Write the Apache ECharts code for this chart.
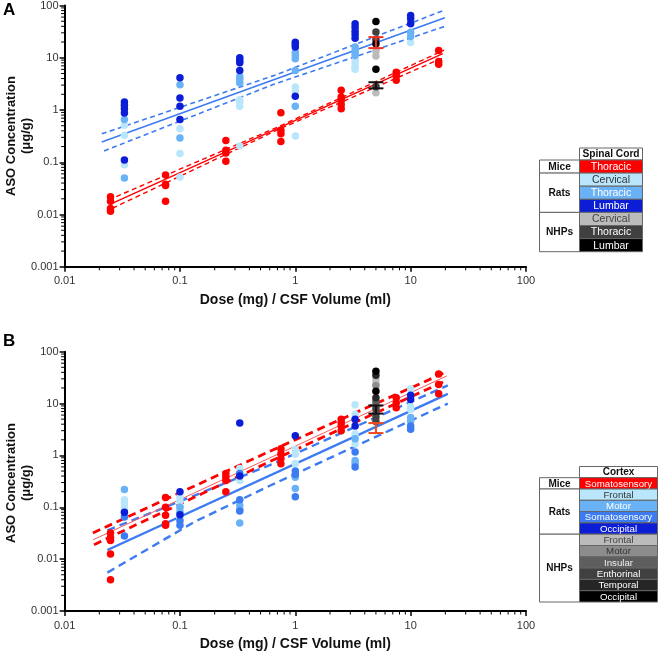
<!DOCTYPE html>
<html><head><meta charset="utf-8">
<script src="https://cdn.jsdelivr.net/npm/echarts@6/dist/echarts.min.js"></script>
<style>html,body{margin:0;padding:0;background:#fff}#c{width:660px;height:652px}</style>
</head><body><div id="c"></div>
<script>
// ---------- tick labels ----------
const xTickLabels = ['0.01','0.1','1','10','100'];
const yTickLabels = ['0.001','0.01','0.1','1','10','100'];

// ---------- doses (mg / CSF ml) ----------
const doseMice = [0.025, 0.075, 0.25, 0.75, 2.5, 7.5, 17.5];
const doseRat  = [0.033, 0.1, 0.33, 1, 3.3, 10];
const doseNHP  = [5];

// ---------- Panel A: spinal cord (µg/g), values per dose ----------
const A_miceThoracic = [[0.022,0.018,0.013,0.0115],[0.057,0.038,0.036,0.018],[0.26,0.17,0.15,0.105],[0.89,0.41,0.35,0.25],[2.38,1.77,1.53,1.28,1.06],[5.3,4.6,3.7],[13.8,8.5,7.5]];
const A_ratCervical  = [[0.51,0.33,0.09],[0.44,0.147,0.052],[1.58,1.42,1.18,0.205],[2.75,2.3,0.32],[8.9,7.7,6.6,6.0],[19.5]];
const A_ratThoracic  = [[0.66,0.05],[3.05,0.29],[4.4,3.86,3.28],[12.8,11.1,9.6,5.7,1.18],[16,13.8,12.3,11.1],[30.9,25.6]];
const A_ratLumbar    = [[1.42,1.23,1.06,0.88,0.11],[4.16,1.69,1.18,0.66],[10.0,8.9,8.0,5.7],[19.9,17.7,16,1.83],[44.7,38.5,32.3,27.9,23.7],[64.4,55.7,44.7]];
const A_nhpCervical  = [[13.5,10.8,2.15]];
const A_nhpThoracic  = [[31,22,2.8]];
const A_nhpLumbar    = [[49.5,18.5,6.0]];
// error bars [dose, low, high]
const A_errRed   = [[5, 15.3, 24.8]];
const A_errBlack = [[5, 2.6, 3.4]];
// regression lines and 95% bands [dose, conc]
const A_fitMice      = [[0.025,0.0158],[19,12.0]];
const A_fitMiceUp    = [[0.024,0.019],[0.7,0.47],[19.5,14.0]];
const A_fitMiceLo    = [[0.026,0.0132],[0.7,0.415],[19.5,10.2]];
const A_fitRat       = [[0.021,0.245],[19.8,58]];
const A_fitRatUp     = [[0.021,0.35],[0.65,4.55],[19.8,82]];
const A_fitRatLo     = [[0.022,0.165],[0.65,3.1],[20.5,41]];

// ---------- Panel B: cortex (µg/g) ----------
const B_miceSomato   = [[0.032,0.026,0.023,0.0125,0.004],[0.155,0.1,0.07,0.048,0.045],[0.45,0.39,0.33,0.2],[1.34,1.07,0.86,0.69],[5.0,4.3,3.7,3.0],[12.9,10.4,8.3],[37,23.2,15.4]];
const B_ratFrontal   = [[0.14,0.12,0.1,0.09],[0.16,0.13,0.105,0.09,0.062],[0.56,0.33],[1.3,1.05,0.7],[9.5,6.2,2.6,1.66],[19,8.9,7.7]];
const B_ratMotor     = [[0.22],[0.1,0.08],[0.11,0.09,0.05],[0.38,0.23],[2.1,0.8,0.7],[5.4,4.6]];
const B_ratSomato    = [[0.065,0.028],[0.055,0.045],[0.45,0.14,0.085],[0.5,0.43,0.16],[1.16,0.6],[3.7,3.2]];
const B_ratOccipital = [[0.08],[0.2,0.072],[4.2,0.4],[2.4],[5.0,3.7],[14.5,12]];
const B_nhpFrontal   = [[29,24]];
const B_nhpMotor     = [[22,9.5]];
const B_nhpInsular   = [[11,6.5]];
const B_nhpEnthorinal= [[8,5.5,4.5]];
const B_nhpTemporal  = [[35,12.9]];
const B_nhpOccipital = [[42,17.3]];
const B_errBlack = [[5, 6.4, 9.2]];
const B_errRed   = [[5, 2.7, 4.2]];
const B_fitMice      = [[0.0176,0.0235],[20.5,34]];
const B_fitMiceUp    = [[0.0176,0.032],[0.6,1.2],[20.5,41]];
const B_fitMiceLo    = [[0.0180,0.019],[0.6,0.76],[20.5,28]];
const B_fitRat       = [[0.0235,0.015],[21,15.4]];
const B_fitRatUp     = [[0.0235,0.036],[0.135,0.17],[0.6,0.65],[21,22.5]];
const B_fitRatLo     = [[0.0235,0.0055],[0.135,0.053],[0.6,0.26],[21,10]];

// ---------- colours ----------
const C = {
  red:'#FF0000', lblue:'#B9E6FA', mblue:'#6AB2F6', sblue:'#3C7CF2', dblue:'#0B1ED6',
  g1:'#BBBBBB', g2:'#8C8C8C', g3:'#5E5E5E', g4:'#404040', g5:'#262626', blk:'#000000',
  line:'#3D7BF2'
};
const FONT = '"Liberation Sans", Arial, Helvetica, sans-serif';

function pts(doses, groups){
  const out=[];
  groups.forEach((g,i)=>g.forEach(v=>out.push([doses[i], v])));
  return out;
}
function scatter(idx, name, color, data){
  return {type:'scatter', name, xAxisIndex:idx, yAxisIndex:idx, data, symbolSize:7.5,
    itemStyle:{color, opacity:1}, z:5, silent:true};
}
function fit(idx, data, color, width, dashed){
  return {type:'line', xAxisIndex:idx, yAxisIndex:idx, data, symbol:'none', showSymbol:false,
    lineStyle:{color, width, type: dashed ? dashed : 'solid'}, z:3, silent:true, animation:false};
}
function errBar(idx, data, color){
  return {type:'custom', xAxisIndex:idx, yAxisIndex:idx, data, z:8, silent:true, clip:false,
    encode:{x:0, y:[1,2]},
    renderItem:(p, api)=>{
      const lo = api.coord([api.value(0), api.value(1)]);
      const hi = api.coord([api.value(0), api.value(2)]);
      const w = 7.5;
      const st = {stroke:color, lineWidth:2};
      return {type:'group', children:[
        {type:'line', shape:{x1:lo[0],y1:lo[1],x2:hi[0],y2:hi[1]}, style:st},
        {type:'line', shape:{x1:lo[0]-w,y1:lo[1],x2:lo[0]+w,y2:lo[1]}, style:st},
        {type:'line', shape:{x1:hi[0]-w,y1:hi[1],x2:hi[0]+w,y2:hi[1]}, style:st}
      ]};
    }};
}
// log minor ticks (2..9 x each decade) drawn through the axes' own scale
function minorVals(lo, hi){
  const out=[];
  for(let e=lo;e<hi;e++) for(let k=2;k<=9;k++) out.push(k*Math.pow(10,e));
  return out;
}
function minorTicks(idx){
  const xs = minorVals(-2,2).map(v=>[v,0.001,0]);
  const ys = minorVals(-3,2).map(v=>[0.01,v,1]);
  return {type:'custom', xAxisIndex:idx, yAxisIndex:idx, data:xs.concat(ys), z:10, silent:true, clip:false,
    encode:{x:0,y:1},
    renderItem:(p, api)=>{
      const c = api.coord([api.value(0), api.value(1)]);
      const st = {stroke:'#000', lineWidth:1};
      if(api.value(2)===0) return {type:'line', shape:{x1:c[0],y1:c[1],x2:c[0],y2:c[1]+3.5}, style:st};
      return {type:'line', shape:{x1:c[0],y1:c[1],x2:c[0]-3.5,y2:c[1]}, style:st};
    }};
}
function xAxis(idx){
  return {type:'log', logBase:10, gridIndex:idx, min:0.01, max:100,
    name:'Dose (mg) / CSF Volume (ml)', nameLocation:'middle', nameGap:26,
    nameTextStyle:{fontFamily:FONT, fontWeight:'bold', fontSize:14, color:'#111'},
    axisLine:{lineStyle:{color:'#000', width:2}},
    axisTick:{length:5, lineStyle:{color:'#000', width:1.5}},
    splitLine:{show:false}, minorTick:{show:false},
    axisLabel:{margin:9, fontFamily:FONT, fontSize:11, color:'#333',
      formatter:v=>xTickLabels[Math.round(Math.log10(v))+2]}};
}
function yAxis(idx){
  return {type:'log', logBase:10, gridIndex:idx, min:0.001, max:100,
    axisLine:{show:true, lineStyle:{color:'#000', width:2}},
    axisTick:{show:true, length:5, lineStyle:{color:'#000', width:1.5}},
    splitLine:{show:false},
    axisLabel:{margin:6, fontFamily:FONT, fontSize:11, color:'#333',
      formatter:v=>yTickLabels[Math.round(Math.log10(v))+3]}};
}

// ---------- legend tables ----------
function table(x0, xm, x1, yTop, headH, rowH, header, groups, fs, hfs){
  const els=[];
  const bs = {stroke:'#666', lineWidth:1};
  els.push({type:'rect', shape:{x:xm,y:yTop,width:x1-xm,height:headH}, style:Object.assign({fill:'#fff'},bs)});
  els.push({type:'text', x:(xm+x1)/2, y:yTop+headH/2+0.5, style:{text:header, fill:'#111', font:'bold '+hfs+'px '+FONT, textAlign:'center', textVerticalAlign:'middle', align:'center', verticalAlign:'middle'}});
  let y = yTop+headH;
  groups.forEach(g=>{
    const h = g.rows.length*rowH;
    els.push({type:'rect', shape:{x:x0,y:y,width:xm-x0,height:h}, style:Object.assign({fill:'#fff'},bs)});
    els.push({type:'text', x:(x0+xm)/2, y:y+h/2+0.5, style:{text:g.label, fill:'#111', font:'bold '+hfs+'px '+FONT, textAlign:'center', textVerticalAlign:'middle', align:'center', verticalAlign:'middle'}});
    g.rows.forEach((r,i)=>{
      const ry = y+i*rowH;
      els.push({type:'rect', shape:{x:xm,y:ry,width:x1-xm,height:rowH}, style:Object.assign({fill:r[1]},bs)});
      els.push({type:'text', x:(xm+x1)/2, y:ry+rowH/2+0.5, style:{text:r[0], fill:r[2], font:fs+'px '+FONT, textAlign:'center', textVerticalAlign:'middle', align:'center', verticalAlign:'middle'}});
    });
    y += h;
  });
  return els;
}
const legendA = table(539.5, 579.5, 642.5, 148, 12, 13.1, 'Spinal Cord', [
  {label:'Mice', rows:[['Thoracic',C.red,'#fff']]},
  {label:'Rats', rows:[['Cervical',C.lblue,'#333'],['Thoracic',C.mblue,'#fff'],['Lumbar',C.dblue,'#fff']]},
  {label:'NHPs', rows:[['Cervical',C.g1,'#444'],['Thoracic',C.g4,'#fff'],['Lumbar',C.blk,'#fff']]}
], 10.5, 10.2);
const legendB = table(539.5, 579.5, 657.5, 466.5, 11.2, 11.3, 'Cortex', [
  {label:'Mice', rows:[['Somatosensory',C.red,'#fff']]},
  {label:'Rats', rows:[['Frontal',C.lblue,'#333'],['Motor',C.mblue,'#fff'],['Somatosensory',C.sblue,'#fff'],['Occipital',C.dblue,'#fff']]},
  {label:'NHPs', rows:[['Frontal',C.g1,'#444'],['Motor',C.g2,'#333'],['Insular',C.g3,'#eee'],['Enthorinal',C.g4,'#fff'],['Temporal',C.g5,'#fff'],['Occipital',C.blk,'#fff']]}
], 9.7, 10);
const titles = [
  {type:'text', x:3, y:2, style:{text:'A', fill:'#000', font:'bold 17px '+FONT}},
  {type:'text', x:3, y:333, style:{text:'B', fill:'#000', font:'bold 17px '+FONT}},
  {type:'text', x:19, y:136, rotation:Math.PI/2, style:{text:'ASO Concentration\n(μg/g)', fill:'#111', font:'bold 13px '+FONT, lineHeight:15, textAlign:'center', textVerticalAlign:'middle', align:'center', verticalAlign:'middle'}},
  {type:'text', x:19, y:483, rotation:Math.PI/2, style:{text:'ASO Concentration\n(μg/g)', fill:'#111', font:'bold 13px '+FONT, lineHeight:15, textAlign:'center', textVerticalAlign:'middle', align:'center', verticalAlign:'middle'}}
];

const dashA = [5,3.5];
const series = [
  minorTicks(0), minorTicks(1),
  // Panel A fits
  fit(0, A_fitRat, C.line, 1.6), fit(0, A_fitRatUp, C.line, 1.6, dashA), fit(0, A_fitRatLo, C.line, 1.6, dashA),
  fit(0, A_fitMice, C.red, 1.4), fit(0, A_fitMiceUp, C.red, 1.4, dashA), fit(0, A_fitMiceLo, C.red, 1.4, dashA),
  // Panel A points
  scatter(0,'Mice Thoracic', C.red, pts(doseMice, A_miceThoracic)),
  scatter(0,'Rat Cervical', C.lblue, pts(doseRat, A_ratCervical)),
  scatter(0,'Rat Thoracic', C.mblue, pts(doseRat, A_ratThoracic)),
  scatter(0,'Rat Lumbar', C.dblue, pts(doseRat, A_ratLumbar)),
  scatter(0,'NHP Cervical', C.g1, pts(doseNHP, A_nhpCervical)),
  scatter(0,'NHP Thoracic', C.g4, pts(doseNHP, A_nhpThoracic)),
  scatter(0,'NHP Lumbar', C.blk, pts(doseNHP, A_nhpLumbar)),
  errBar(0, A_errRed, '#F03020'), errBar(0, A_errBlack, '#111'),
  // Panel B fits
  fit(1, B_fitRat, C.line, 2.4), fit(1, B_fitRatUp, C.line, 2.4, [8,5]), fit(1, B_fitRatLo, C.line, 2.4, [8,5]),
  fit(1, B_fitMice, '#FF5A5A', 1), fit(1, B_fitMiceUp, C.red, 2.8, [8,5]), fit(1, B_fitMiceLo, C.red, 2.8, [8,5]),
  // Panel B points
  scatter(1,'Mice Somatosensory', C.red, pts(doseMice, B_miceSomato)),
  scatter(1,'Rat Frontal', C.lblue, pts(doseRat, B_ratFrontal)),
  scatter(1,'Rat Motor', C.mblue, pts(doseRat, B_ratMotor)),
  scatter(1,'Rat Somatosensory', C.sblue, pts(doseRat, B_ratSomato)),
  scatter(1,'Rat Occipital', C.dblue, pts(doseRat, B_ratOccipital)),
  scatter(1,'NHP Frontal', C.g1, pts(doseNHP, B_nhpFrontal)),
  scatter(1,'NHP Motor', C.g2, pts(doseNHP, B_nhpMotor)),
  scatter(1,'NHP Insular', C.g3, pts(doseNHP, B_nhpInsular)),
  scatter(1,'NHP Enthorinal', C.g4, pts(doseNHP, B_nhpEnthorinal)),
  scatter(1,'NHP Temporal', C.g5, pts(doseNHP, B_nhpTemporal)),
  scatter(1,'NHP Occipital', C.blk, pts(doseNHP, B_nhpOccipital)),
  errBar(1, B_errBlack, '#111'), errBar(1, B_errRed, '#F04A20')
];

const chart = echarts.init(document.getElementById('c'), null, {renderer:'canvas'});
chart.setOption({
  animation:false,
  backgroundColor:'#fff',
  grid:[
    {left:64.6, top:5, width:461.4, height:261.8},
    {left:64.6, top:351.7, width:461.4, height:262.3}
  ],
  xAxis:[xAxis(0), xAxis(1)],
  yAxis:[yAxis(0), yAxis(1)],
  graphic:{elements: titles.concat(legendA, legendB)},
  series
});
</script></body></html>
